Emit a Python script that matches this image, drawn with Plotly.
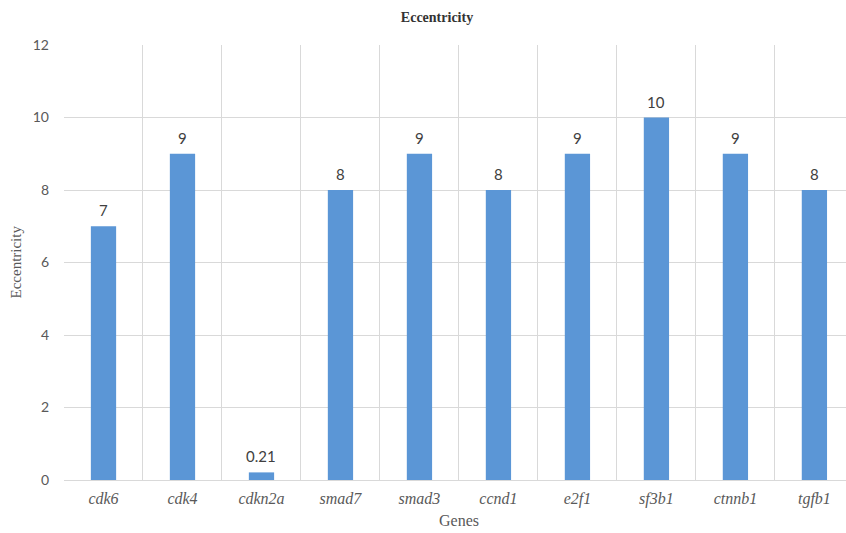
import plotly.graph_objects as go

genes = ["cdk6", "cdk4", "cdkn2a", "smad7", "smad3", "ccnd1", "e2f1", "sf3b1", "ctnnb1", "tgfb1"]
eccentricity = [7, 9, 0.21, 8, 9, 8, 9, 10, 9, 8]
labels = ["7", "9", "0.21", "8", "9", "8", "9", "10", "9", "8"]
y_ticks = [0, 2, 4, 6, 8, 10, 12]

W, H = 846, 533
ML, MR, MT, MB = 64, 0, 45, 53
SERIF = "Liberation Serif"
SANS = "Lato"

fig = go.Figure(
    go.Bar(
        x=genes,
        y=eccentricity,
        width=0.32,
        marker=dict(color="#5b96d6", line=dict(width=0)),
        hoverinfo="x+y",
    )
)

# value labels sitting just above each bar
value_labels = [
    dict(
        x=g, y=v, xref="x", yref="y",
        text=t, showarrow=False,
        xanchor="center", yanchor="bottom", yshift=5,
        font=dict(family=SANS, size=15, color="#404040"),
    )
    for g, v, t in zip(genes, eccentricity, labels)
]

fig.update_layout(
    width=W,
    height=H,
    margin=dict(l=ML, r=MR, t=MT, b=MB),
    paper_bgcolor="white",
    plot_bgcolor="white",
    showlegend=False,
    title=dict(
        text="<b>Eccentricity</b>",
        x=437 / W,
        xref="container",
        xanchor="center",
        y=1 - 17 / H,
        yref="container",
        yanchor="middle",
        font=dict(family=SERIF, size=14, color="#333333"),
    ),
    xaxis=dict(
        type="category",
        range=[-0.5, 9.4],
        tickson="boundaries",
        tickvals=genes,
        ticktext=["<i>" + g + "</i>" for g in genes],
        showgrid=True,
        gridcolor="#d9d9d9",
        gridwidth=1,
        showline=True,
        linecolor="#d9d9d9",
        ticks="",
        tickfont=dict(family=SERIF, size=16, color="#595959"),
        ticklabelstandoff=4,
    ),
    yaxis=dict(
        range=[0, 12],
        tickvals=y_ticks,
        showgrid=True,
        gridcolor="#d9d9d9",
        gridwidth=1,
        zeroline=False,
        showline=False,
        ticks="",
        tickfont=dict(family=SANS, size=14, color="#595959"),
        ticklabelstandoff=14,
    ),
    annotations=value_labels + [
        dict(
            text="Genes",
            x=(459 - ML) / (W - ML - MR), xref="paper",
            y=-40 / (H - MT - MB), yref="paper",
            xanchor="center", yanchor="middle",
            showarrow=False,
            font=dict(family=SERIF, size=16, color="#595959"),
        ),
        dict(
            text="Eccentricity",
            x=-(ML - 15) / (W - ML - MR), xref="paper",
            y=0.5, yref="paper",
            xanchor="center", yanchor="middle",
            textangle=-90,
            showarrow=False,
            font=dict(family=SERIF, size=15, color="#595959"),
        ),
    ],
)

fig.write_html("out.html")
